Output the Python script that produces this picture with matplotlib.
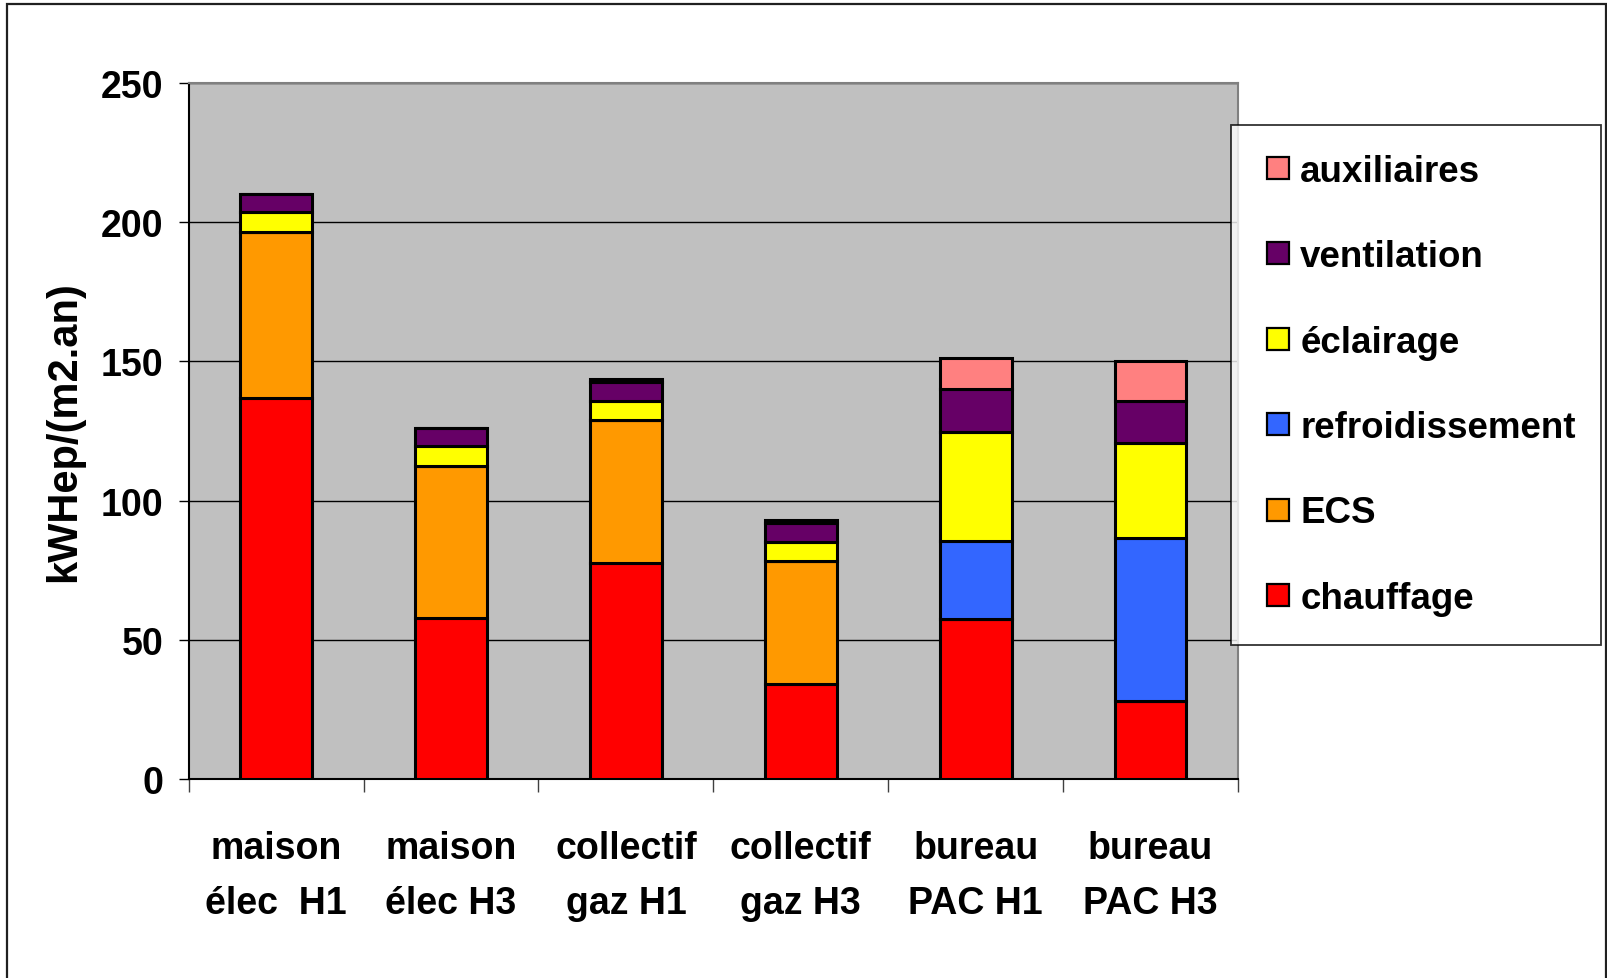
import matplotlib.pyplot as plt
import numpy as np
from matplotlib.lines import Line2D
from matplotlib.patches import Rectangle

plt.rcParams['font.family'] = ['Liberation Sans', 'DejaVu Sans']
plt.rcParams['font.weight'] = 'bold'

# data, kWhep/(m2.an)
categories = ["maison\nélec  H1", "maison\nélec H3", "collectif\ngaz H1",
              "collectif\ngaz H3", "bureau\nPAC H1", "bureau\nPAC H3"]
chauffage = [137, 58, 77.5, 34, 57.5, 28]
ecs = [59.5, 54.5, 51.5, 44.3, 0, 0]
refroidissement = [0, 0, 0, 0, 28, 58.6]
eclairage = [7, 7, 6.7, 6.8, 39.3, 34.2]
ventilation = [6.5, 6.5, 6.8, 7, 15.2, 15.1]
auxiliaires = [0, 0, 1.0, 1.0, 11.1, 14.1]

series = [
    ("chauffage", chauffage, "#FF0000"),
    ("ECS", ecs, "#FF9900"),
    ("refroidissement", refroidissement, "#3366FF"),
    ("éclairage", eclairage, "#FFFF00"),
    ("ventilation", ventilation, "#660066"),
    ("auxiliaires", auxiliaires, "#FF8080"),
]

fig = plt.figure(figsize=(16.07, 9.79), dpi=100)
ax = fig.add_axes([0.1174, 0.2033, 0.6530, 0.7109])
ax.set_facecolor("#C0C0C0")

x = np.arange(len(categories))
bottom = np.zeros(len(categories))
for name, vals, col in series:
    vals = np.array(vals, dtype=float)
    ax.bar(x, vals, 0.41, bottom=bottom, color=col, edgecolor="black",
           linewidth=2.2, zorder=3)
    bottom += vals

ax.set_xlim(-0.5, len(categories) - 0.5)
ax.set_ylim(0, 250)
ax.set_yticks(np.arange(0, 251, 50))
ax.yaxis.grid(True, color="black", linewidth=1.0, zorder=1)
ax.set_axisbelow(True)

ax.set_xticks(x)
ax.set_xticklabels(categories, fontsize=27, fontweight="bold", linespacing=1.65)
ax.set_xticks(np.arange(-0.5, len(categories), 1.0), minor=True)
ax.tick_params(axis="x", which="major", length=0, pad=37)
ax.tick_params(axis="x", which="minor", length=9.5, width=1, color="#404040")
ax.tick_params(axis="y", length=7, width=1, pad=11, labelsize=27)
for lab in ax.get_yticklabels():
    lab.set_fontweight("bold")

ax.set_ylabel("kWHep/(m2.an)", fontsize=30, fontweight="bold", labelpad=12)

ax.spines["left"].set_color("black")
ax.spines["bottom"].set_color("black")
ax.spines["top"].set_color("#808080")
ax.spines["right"].set_color("#808080")
for sp in ax.spines.values():
    sp.set_linewidth(1.5)

# legend, top entry = last series
handles = [Line2D([], [], marker="s", linestyle="none", markersize=16.5,
                  markerfacecolor=col, markeredgecolor="black",
                  markeredgewidth=1.6) for _, _, col in series[::-1]]
labels = [name for name, _, _ in series[::-1]]
x0, x1 = 1231 / 1607, 1601 / 1607
ytop = 1 - 126 / 979
leg = fig.legend(handles, labels, loc="upper left",
                 bbox_to_anchor=(x0, ytop - 0.5, x1 - x0, 0.5),
                 bbox_transform=fig.transFigure, mode="expand",
                 borderaxespad=0, prop={"weight": "bold", "size": 26.5},
                 frameon=True, fancybox=False, edgecolor="black",
                 handlelength=1.0, handletextpad=0.1, labelspacing=1.37,
                 borderpad=0.78)
leg.get_frame().set_linewidth(1.3)

# outer border of the chart area
fig.add_artist(Rectangle((7 / 1607, -0.05), (1605.5 - 7) / 1607, 1.05 - 5 / 979,
                         transform=fig.transFigure, fill=False,
                         edgecolor="#202020", linewidth=1.6))

fig.savefig("out.png", dpi=100)
